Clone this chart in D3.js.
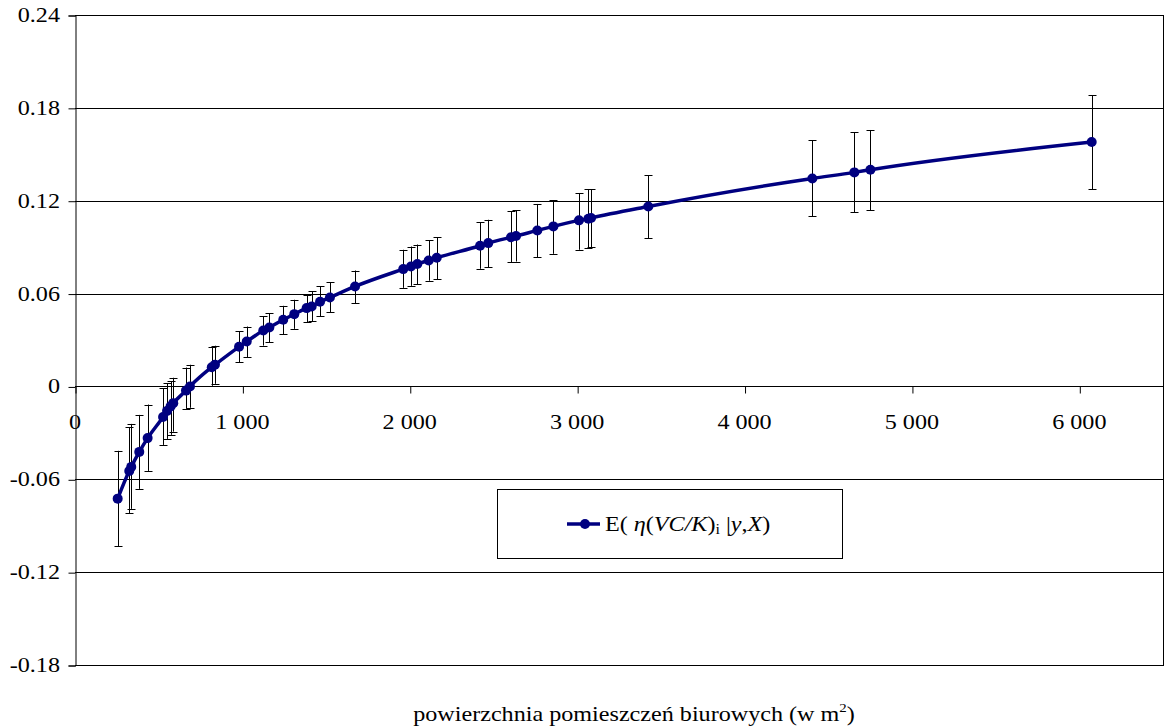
<!DOCTYPE html>
<html>
<head>
<meta charset="utf-8">
<script src="https://cdn.jsdelivr.net/npm/d3@7"></script>
<style>
  html, body { margin: 0; padding: 0; background: #fff; }
  svg text { font-family: "Liberation Serif", "Times New Roman", serif; fill: #000; }
</style>
</head>
<body>
<svg id="chart" width="1167" height="728"></svg>
<script>
// Office floor area (m2)
const area = [255, 324, 336, 384, 434, 526, 550, 571, 587, 663, 687, 817, 836, 980, 1026,
  1125, 1161, 1244, 1310, 1384, 1414, 1464, 1523, 1673, 1961, 2007, 2045, 2113, 2161,
  2420, 2469, 2605, 2635, 2762, 2858, 3011, 3067, 3083, 3425, 4405, 4656, 4752, 6074];
// Posterior mean E(eta(VC/K)_i | y, X)
const mean = [-0.0725, -0.0546, -0.0520, -0.0423, -0.0334, -0.0197, -0.0158, -0.0129, -0.0108,
  -0.0027, 0.0000, 0.0124, 0.0140, 0.0256, 0.0290, 0.0361, 0.0381, 0.0431, 0.0467, 0.0506,
  0.0517, 0.0547, 0.0575, 0.0646, 0.0758, 0.0775, 0.0791, 0.0814, 0.0831, 0.0909, 0.0926,
  0.0964, 0.0972, 0.1008, 0.1034, 0.1073, 0.1084, 0.1088, 0.1163, 0.1344, 0.1383, 0.1400, 0.1579];
// Upper end of each error bar
const upper = [-0.0416, -0.0264, -0.0242, -0.0184, -0.0117, -0.0011, 0.0021, 0.0032, 0.0056,
  0.0122, 0.0140, 0.0253, 0.0263, 0.0355, 0.0387, 0.0452, 0.0474, 0.0521, 0.0560, 0.0592,
  0.0614, 0.0646, 0.0672, 0.0749, 0.0883, 0.0904, 0.0917, 0.0943, 0.0963, 0.1060, 0.1077,
  0.1131, 0.1137, 0.1179, 0.1204, 0.1250, 0.1273, 0.1274, 0.1366, 0.1590, 0.1641, 0.1657, 0.1881];
// Lower end of each error bar
const lower = [-0.1031, -0.0820, -0.0791, -0.0662, -0.0546, -0.0378, -0.0339, -0.0313, -0.0292,
  -0.0145, -0.0138, 0.0004, 0.0017, 0.0155, 0.0189, 0.0264, 0.0284, 0.0338, 0.0372, 0.0416,
  0.0421, 0.0452, 0.0478, 0.0539, 0.0637, 0.0650, 0.0659, 0.0683, 0.0691, 0.0760, 0.0769,
  0.0802, 0.0807, 0.0836, 0.0857, 0.0883, 0.0896, 0.0899, 0.0957, 0.1098, 0.1127, 0.1140, 0.1273];

const yTicks = [-0.18, -0.12, -0.06, 0, 0.06, 0.12, 0.18, 0.24];
const yTickLabels = ["-0.18", "-0.12", "-0.06", "0", "0.06", "0.12", "0.18", "0.24"];
const xTicks = [0, 1000, 2000, 3000, 4000, 5000, 6000];
const xTickLabels = ["0", "1 000", "2 000", "3 000", "4 000", "5 000", "6 000"];
const xTitle = "powierzchnia pomieszczeń biurowych (w m";

const data = area.map((a, i) => ({ x: a, y: mean[i], lo: lower[i], hi: upper[i] }));

const svg = d3.select("#chart");
const plot = { left: 75, right: 1163, top: 15, bottom: 665 };
const navy = "#000080";
const fs = 21;      // tick/title font size
const sx = 1.15;    // horizontal text stretch

const x = d3.scaleLinear().domain([0, 6500]).range([plot.left, plot.right]);
const y = d3.scaleLinear().domain([-0.18, 0.24]).range([plot.bottom, plot.top]);

// horizontal gridlines
svg.append("g").selectAll("line").data(yTicks).join("line")
  .attr("x1", plot.left).attr("x2", plot.right)
  .attr("y1", d => Math.round(y(d)) + 0.5).attr("y2", d => Math.round(y(d)) + 0.5)
  .attr("stroke", "#000").attr("stroke-width", 1);

// plot frame (right edge)
svg.append("line")
  .attr("x1", plot.right + 0.5).attr("x2", plot.right + 0.5)
  .attr("y1", plot.top).attr("y2", plot.bottom + 1)
  .attr("stroke", "#000");

// y axis
const yAxis = svg.append("g").attr("transform", `translate(${plot.left + 0.5},0.5)`)
  .call(d3.axisLeft(y).tickValues(yTicks).tickSize(7).tickFormat((d, i) => yTickLabels[i]));
yAxis.select(".domain").attr("stroke", "#000");
yAxis.selectAll("line").attr("stroke", "#000");
yAxis.selectAll("text").remove();
svg.append("g").selectAll("text").data(yTicks).join("text")
  .attr("text-anchor", "end")
  .attr("font-size", fs)
  .attr("transform", d => `translate(60,${y(d) + 7}) scale(${sx},1)`)
  .text((d, i) => yTickLabels[i]);

// x axis at zero
const xAxis = svg.append("g").attr("transform", `translate(0.5,${Math.round(y(0)) + 0.5})`)
  .call(d3.axisBottom(x).tickValues(xTicks).tickSize(7).tickSizeOuter(0).tickFormat((d, i) => xTickLabels[i]));
xAxis.select(".domain").attr("stroke", "#000").attr("d", `M${plot.left},0H${plot.right}`);
xAxis.selectAll("line").attr("stroke", "#000");
xAxis.selectAll("text").remove();
svg.append("g").selectAll("text").data(xTicks).join("text")
  .attr("text-anchor", "middle")
  .attr("font-size", fs)
  .attr("transform", d => `translate(${x(d)},${y(0) + 43}) scale(${sx},1)`)
  .text((d, i) => xTickLabels[i]);

// error bars
const eb = svg.append("g").attr("stroke", "#000").attr("stroke-width", 1);
const cap = 4;
data.forEach(d => {
  const cx = Math.round(x(d.x)) + 0.5;
  eb.append("line").attr("x1", cx).attr("x2", cx).attr("y1", y(d.hi)).attr("y2", y(d.lo));
  eb.append("line").attr("x1", cx - cap).attr("x2", cx + cap).attr("y1", Math.round(y(d.hi)) + 0.5).attr("y2", Math.round(y(d.hi)) + 0.5);
  eb.append("line").attr("x1", cx - cap).attr("x2", cx + cap).attr("y1", Math.round(y(d.lo)) + 0.5).attr("y2", Math.round(y(d.lo)) + 0.5);
});

// smoothed mean line
const line = d3.line().x(d => x(d.x)).y(d => y(d.y)).curve(d3.curveMonotoneX);
svg.append("path").datum(data)
  .attr("d", line).attr("fill", "none")
  .attr("stroke", navy).attr("stroke-width", 3.5).attr("stroke-linejoin", "round");

// markers
svg.append("g").selectAll("circle").data(data).join("circle")
  .attr("cx", d => x(d.x)).attr("cy", d => y(d.y)).attr("r", 5)
  .attr("fill", navy);

// legend
const lg = svg.append("g");
lg.append("rect").attr("x", 497.5).attr("y", 489.5).attr("width", 345).attr("height", 69)
  .attr("fill", "#fff").attr("stroke", "#000").attr("stroke-width", 1);
lg.append("line").attr("x1", 567).attr("x2", 600).attr("y1", 524).attr("y2", 524)
  .attr("stroke", navy).attr("stroke-width", 3.5);
lg.append("circle").attr("cx", 585).attr("cy", 524).attr("r", 5).attr("fill", navy);
const lt = lg.append("text").attr("font-size", fs)
  .attr("transform", `translate(605,531) scale(${sx},1)`);
lt.append("tspan").text("E( ");
lt.append("tspan").attr("font-style", "italic").text("η");
lt.append("tspan").text("(");
lt.append("tspan").attr("font-style", "italic").text("VC/K");
lt.append("tspan").text(")");
lt.append("tspan").attr("font-size", 14).attr("dy", 3).text("i");
lt.append("tspan").attr("dy", -3).text(" |");
lt.append("tspan").attr("font-style", "italic").text("y");
lt.append("tspan").text(",");
lt.append("tspan").attr("font-style", "italic").text("X");
lt.append("tspan").text(")");

// x axis title
const tt = svg.append("text").attr("font-size", fs).attr("text-anchor", "middle")
  .attr("transform", `translate(634,721) scale(${sx},1)`);
tt.append("tspan").text(xTitle);
tt.append("tspan").attr("font-size", 13).attr("dy", -9).text("2");
tt.append("tspan").attr("dy", 9).text(")");
</script>
</body>
</html>
